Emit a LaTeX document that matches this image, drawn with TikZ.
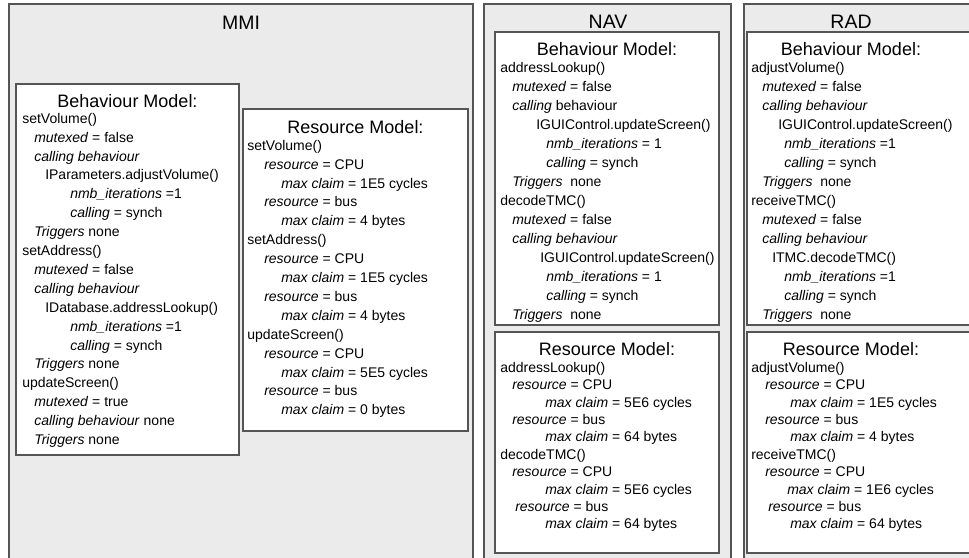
\documentclass[tikz,border=0pt]{standalone}
\usepackage{fontspec}
\setmainfont{Liberation Sans}
\definecolor{panelfill}{RGB}{235,235,235}
\definecolor{panelline}{RGB}{85,85,85}
\definecolor{boxline}{RGB}{85,85,85}
\newcommand\ind[1]{\hspace*{\dimexpr #1pt*3/4\relax}}
\newcommand\fl{\rule{0pt}{8pt}}
\begin{document}
\begin{tikzpicture}[x=0.75pt,y=-0.75pt,
  panel/.style={draw=panelline,fill=panelfill,line width=0.8pt},
  mbox/.style={draw=boxline,fill=white,line width=0.8pt},
  title/.style={inner sep=0pt,font=\fontsize{14.6}{17}\selectfont},
  heading/.style={inner sep=0pt,font=\fontsize{13.5}{16}\selectfont},
  body/.style={anchor=north west,inner sep=0pt,align=left}]
\useasboundingbox (0,0) rectangle (969,557);
\fill[white] (0,0) rectangle (969,557);
% panels
\draw[panel] (9,4) rectangle (473,562);
\draw[panel] (484,4) rectangle (731,562);
\draw[panel] (744,4) rectangle (985,562);
\node[title] (tmmi) at (241,23) {MMI};
\node[title] (tnav) at (608,22) {NAV};
\node[title] (trad) at (851,22) {RAD};
% boxes
\draw[mbox] (16,84) rectangle (239,455);
\draw[mbox] (243,109) rectangle (468,431);
\draw[mbox] (495,32) rectangle (719,325);
\draw[mbox] (495,332) rectangle (719,553);
\draw[mbox] (747,32) rectangle (985,325);
\draw[mbox] (747,332) rectangle (985,553);
% headings
\node[heading] (hmb) at (127.5,101) {Behaviour Model:};
\node[heading] (hmr) at (355.5,127) {Resource Model:};
\node[heading] (hnb) at (607,49) {Behaviour Model:};
\node[heading] (hnr) at (607,349) {Resource Model:};
\node[heading] (hrb) at (851,49) {Behaviour Model:};
\node[heading] (hrr) at (851,349) {Resource Model:};
% MMI behaviour
\node[body,font=\fontsize{10.5}{14.175}\selectfont] (tmb) at (16,112.3) {%
\fl\ind{6}setVolume()\\
\ind{18}\textit{mutexed} = false\\
\ind{18}\textit{calling behaviour}\\
\ind{29}IParameters.adjustVolume()\\
\ind{54}\textit{nmb\_iterations} =1\\
\ind{54}\textit{calling} = synch\\
\ind{18}\textit{Triggers} none\\
\ind{6}setAddress()\\
\ind{18}\textit{mutexed} = false\\
\ind{18}\textit{calling behaviour}\\
\ind{29}IDatabase.addressLookup()\\
\ind{54}\textit{nmb\_iterations} =1\\
\ind{54}\textit{calling} = synch\\
\ind{18}\textit{Triggers} none\\
\ind{6}updateScreen()\\
\ind{18}\textit{mutexed} = true\\
\ind{18}\textit{calling behaviour} none\\
\ind{18}\textit{Triggers} none};
% MMI resource
\node[body,font=\fontsize{10.5}{14.175}\selectfont] (tmr) at (243,139.3) {%
\fl\ind{4}setVolume()\\
\ind{21}\textit{resource} = CPU\\
\ind{38}\textit{max claim} = 1E5 cycles\\
\ind{21}\textit{resource} = bus\\
\ind{38}\textit{max claim} = 4 bytes\\
\ind{4}setAddress()\\
\ind{21}\textit{resource} = CPU\\
\ind{38}\textit{max claim} = 1E5 cycles\\
\ind{21}\textit{resource} = bus\\
\ind{38}\textit{max claim} = 4 bytes\\
\ind{4}updateScreen()\\
\ind{21}\textit{resource} = CPU\\
\ind{38}\textit{max claim} = 5E5 cycles\\
\ind{21}\textit{resource} = bus\\
\ind{38}\textit{max claim} = 0 bytes};
% NAV behaviour
\node[body,font=\fontsize{10.5}{14.25}\selectfont] (tnb) at (495,61.3) {%
\fl\ind{5}addressLookup()\\
\ind{17}\textit{mutexed} = false\\
\ind{17}\textit{calling} behaviour\\
\ind{41}IGUIControl.updateScreen()\\
\ind{51}\textit{nmb\_iterations} = 1\\
\ind{51}\textit{calling} = synch\\
\ind{17}\textit{Triggers}\ \ none\\
\ind{5}decodeTMC()\\
\ind{17}\textit{mutexed} = false\\
\ind{17}\textit{calling behaviour}\\
\ind{45}IGUIControl.updateScreen()\\
\ind{51}\textit{nmb\_iterations} = 1\\
\ind{51}\textit{calling} = synch\\
\ind{17}\textit{Triggers}\ \ none};
% NAV resource
\node[body,font=\fontsize{10.5}{13.05}\selectfont] (tnr) at (495,361.3) {%
\fl\ind{5}addressLookup()\\
\ind{17}\textit{resource} = CPU\\
\ind{50}\textit{max claim} = 5E6 cycles\\
\ind{17}\textit{resource} = bus\\
\ind{50}\textit{max claim} = 64 bytes\\
\ind{5}decodeTMC()\\
\ind{17}\textit{resource} = CPU\\
\ind{50}\textit{max claim} = 5E6 cycles\\
\ind{20}\textit{resource} = bus\\
\ind{50}\textit{max claim} = 64 bytes};
% RAD behaviour
\node[body,font=\fontsize{10.5}{14.25}\selectfont] (trb) at (747,61.3) {%
\fl\ind{4}adjustVolume()\\
\ind{15}\textit{mutexed} = false\\
\ind{15}\textit{calling behaviour}\\
\ind{31}IGUIControl.updateScreen()\\
\ind{37}\textit{nmb\_iterations} =1\\
\ind{37}\textit{calling} = synch\\
\ind{15}\textit{Triggers}\ \ none\\
\ind{4}receiveTMC()\\
\ind{15}\textit{mutexed} = false\\
\ind{15}\textit{calling behaviour}\\
\ind{25}ITMC.decodeTMC()\\
\ind{37}\textit{nmb\_iterations} =1\\
\ind{37}\textit{calling} = synch\\
\ind{15}\textit{Triggers}\ \ none};
% RAD resource
\node[body,font=\fontsize{10.5}{13.05}\selectfont] (trr) at (747,361.3) {%
\fl\ind{4}adjustVolume()\\
\ind{18}\textit{resource} = CPU\\
\ind{43}\textit{max claim} = 1E5 cycles\\
\ind{18}\textit{resource} = bus\\
\ind{43}\textit{max claim} = 4 bytes\\
\ind{4}receiveTMC()\\
\ind{18}\textit{resource} = CPU\\
\ind{40}\textit{max claim} = 1E6 cycles\\
\ind{21}\textit{resource} = bus\\
\ind{43}\textit{max claim} = 64 bytes};
\end{tikzpicture}
\end{document}
